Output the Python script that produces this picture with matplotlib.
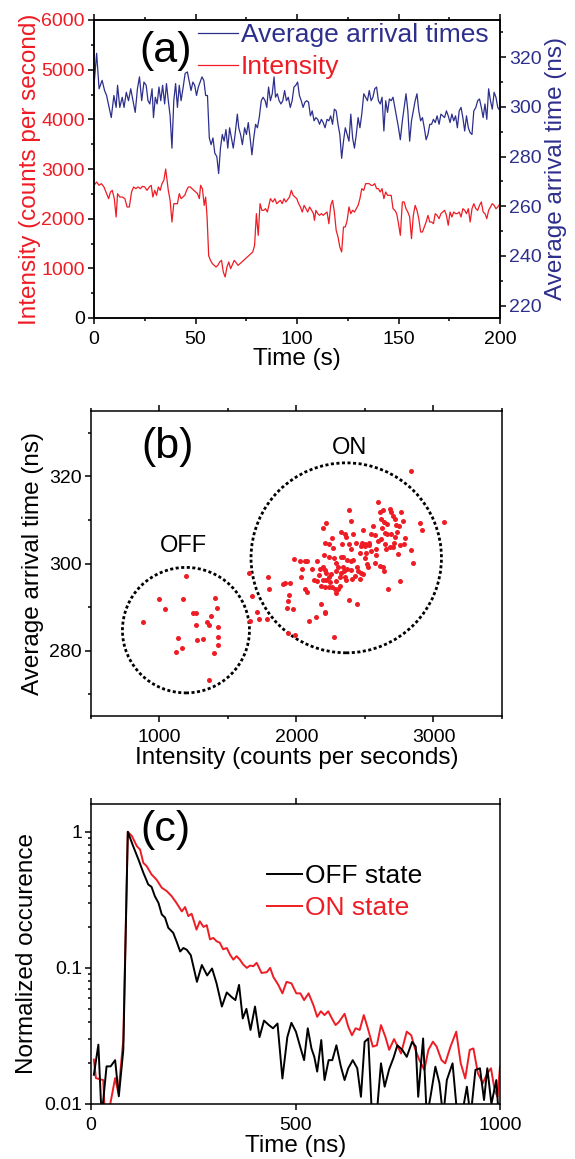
import matplotlib.pyplot as plt
import numpy as np
from matplotlib.patches import Ellipse
from matplotlib.ticker import MultipleLocator, LogLocator, NullFormatter

plt.rcParams['font.family'] = ['Liberation Sans', 'DejaVu Sans']
plt.rcParams['axes.linewidth'] = 1.1

RED = '#EE1C24'
BLUE = '#2D2F8C'

# ---- (a) time traces (s)
arrival_t = [
    0.0, 1.3, 2.5, 4.0, 5.2, 6.2, 7.6, 8.5, 9.8, 10.9,
    11.6, 12.7, 13.9, 14.8, 15.9, 17.0, 18.1, 19.2, 20.3, 21.4,
    22.4, 23.5, 24.6, 25.7, 26.6, 27.5, 28.6, 29.3, 30.2, 31.1,
    32.0, 32.9, 33.8, 34.8, 35.7, 36.6, 37.5, 38.4, 39.3, 40.2,
    41.1, 42.0, 42.9, 43.8, 44.9, 46.0, 47.1, 47.8, 48.7, 49.6,
    50.5, 51.4, 52.3, 53.2, 54.1, 55.0, 55.9, 56.8, 57.7, 58.6,
    59.5, 60.5, 61.4, 62.3, 63.2, 64.1, 65.0, 65.9, 66.8, 67.7,
    68.6, 69.5, 70.6, 71.3, 72.2, 73.1, 74.2, 75.1, 76.0, 76.9,
    77.8, 78.7, 79.6, 80.5, 81.4, 82.4, 83.3, 84.3, 85.1, 86.0,
    86.9, 87.8, 88.7, 89.4, 90.3, 91.2, 92.1, 93.0, 93.9, 94.8,
    95.7, 96.7, 97.6, 98.5, 99.4, 100.3, 101.2, 102.1, 103.0, 103.9,
    104.8, 105.7, 106.6, 107.5, 108.4, 109.3, 110.2, 111.1, 112.0, 112.9,
    113.8, 114.8, 115.7, 116.6, 117.5, 118.4, 119.3, 120.2, 121.1, 122.0,
    122.9, 123.8, 124.7, 125.6, 126.5, 127.4, 128.3, 129.2, 130.1, 131.0,
    131.9, 132.9, 133.8, 134.7, 135.6, 136.5, 137.4, 138.3, 139.2, 140.1,
    141.0, 141.9, 142.8, 143.7, 144.6, 145.5, 146.4, 147.3, 148.2, 149.1,
    150.0, 150.9, 151.9, 152.8, 153.7, 154.6, 155.5, 156.4, 157.3, 158.2,
    159.1, 160.0, 160.9, 161.8, 162.7, 163.6, 164.5, 165.4, 166.3, 167.2,
    168.1, 169.0, 170.0, 170.9, 171.8, 172.7, 173.6, 174.5, 175.4, 176.3,
    177.2, 178.1, 179.0, 179.9, 180.8, 181.7, 182.6, 183.5, 184.4, 185.3,
    186.2, 187.1, 188.1, 189.0, 189.9, 190.8, 191.7, 192.6, 193.5, 194.4,
    195.3, 196.2, 197.1, 198.0, 198.9, 200.0]
arrival = [
    308.7, 321.6, 307.3, 310.7, 306.6, 304.6, 299.1, 295.7, 304.6, 299.8,
    308.7, 299.8, 303.9, 299.8, 305.9, 302.5, 307.3, 302.5, 297.8, 307.3,
    312.1, 302.5, 310.0, 308.7, 302.5, 301.2, 307.3, 295.7, 303.9, 301.2,
    308.0, 302.5, 308.7, 301.2, 309.4, 302.5, 296.4, 283.4, 302.5, 309.4,
    299.8, 308.7, 302.5, 307.3, 313.5, 314.1, 309.4, 306.6, 310.0, 308.7,
    304.6, 308.0, 310.0, 312.1, 310.7, 304.6, 304.6, 287.5, 284.8, 287.5,
    281.4, 280.0, 273.2, 283.4, 288.9, 286.2, 290.9, 283.4, 291.6, 287.5,
    283.4, 288.9, 297.1, 291.6, 288.9, 284.8, 291.6, 288.9, 293.7, 287.5,
    280.7, 287.5, 293.0, 291.6, 295.7, 302.5, 303.9, 302.5, 299.8, 308.0,
    302.5, 305.3, 312.1, 303.9, 305.3, 302.5, 301.2, 302.5, 306.6, 302.5,
    303.9, 299.8, 302.5, 308.0, 308.7, 310.0, 304.6, 302.5, 299.8, 301.9,
    302.5, 301.9, 296.4, 298.4, 294.4, 295.7, 295.0, 293.0, 295.0, 293.7,
    291.6, 295.0, 294.4, 296.4, 293.0, 299.1, 298.4, 293.0, 288.9, 279.3,
    286.2, 291.6, 288.9, 286.2, 297.1, 287.5, 283.4, 288.9, 295.7, 291.6,
    297.1, 305.3, 303.9, 302.5, 306.6, 302.5, 303.9, 307.3, 308.0, 302.5,
    301.2, 303.9, 290.3, 302.5, 297.8, 303.2, 302.5, 303.9, 299.8, 295.7,
    291.6, 286.8, 294.4, 299.8, 305.3, 298.4, 286.2, 294.4, 298.4, 302.5,
    305.3, 298.4, 294.4, 295.7, 291.6, 286.8, 288.9, 293.0, 293.0, 295.0,
    293.7, 296.4, 293.0, 297.1, 296.4, 295.7, 298.4, 296.4, 293.7, 297.1,
    294.4, 296.4, 291.6, 298.4, 299.8, 295.7, 290.3, 296.4, 291.6, 289.6,
    288.9, 298.4, 299.8, 302.5, 303.2, 299.8, 295.7, 301.2, 295.0, 307.3,
    302.5, 299.1, 305.9, 303.9, 299.8, 298.4]

intensity_t = [
    0.0, 1.3, 2.5, 3.6, 4.9, 6.2, 7.2, 8.1, 9.0, 10.0,
    10.9, 11.6, 12.7, 13.9, 15.2, 16.3, 17.4, 18.5, 19.5, 20.6,
    21.7, 22.8, 23.9, 25.0, 26.1, 27.2, 28.2, 29.0, 29.9, 30.8,
    31.7, 32.6, 33.5, 34.4, 35.3, 36.6, 37.5, 38.4, 39.3, 40.2,
    41.1, 42.0, 42.9, 43.8, 44.7, 45.6, 46.5, 47.4, 48.3, 49.2,
    50.1, 51.0, 51.9, 52.5, 53.4, 54.3, 55.0, 55.7, 56.5, 57.4,
    58.3, 59.2, 60.1, 61.0, 61.9, 62.8, 63.7, 64.6, 65.5, 66.4,
    67.3, 69.1, 71.0, 72.8, 74.6, 76.4, 78.2, 79.1, 80.0, 80.9,
    81.8, 82.7, 83.6, 84.5, 85.4, 86.9, 88.1, 89.1, 90.0, 90.9,
    91.8, 92.7, 93.6, 94.5, 96.3, 97.2, 98.1, 99.0, 99.9, 100.8,
    101.7, 102.6, 103.5, 104.4, 105.3, 106.2, 107.2, 108.1, 108.6, 109.3,
    110.2, 111.1, 112.0, 112.9, 113.8, 114.8, 115.7, 116.6, 117.5, 118.4,
    119.3, 120.2, 121.1, 122.0, 122.9, 123.8, 124.7, 125.6, 126.5, 127.4,
    128.3, 129.2, 130.1, 131.0, 131.9, 132.9, 133.8, 134.7, 135.6, 136.5,
    137.4, 138.3, 139.2, 140.1, 141.0, 141.9, 142.8, 143.7, 144.6, 145.5,
    146.4, 147.3, 148.2, 149.1, 150.0, 150.9, 151.9, 152.8, 153.7, 154.6,
    155.5, 156.4, 157.3, 158.2, 159.1, 160.0, 160.9, 161.8, 162.7, 163.6,
    164.5, 165.4, 166.3, 167.2, 168.1, 169.0, 170.0, 170.9, 171.8, 172.7,
    173.6, 174.5, 175.4, 176.3, 177.2, 178.1, 179.0, 179.9, 180.8, 181.7,
    182.6, 183.5, 184.4, 185.3, 186.2, 187.1, 188.1, 189.0, 189.9, 190.8,
    191.7, 192.6, 193.5, 194.4, 195.3, 196.2, 197.1, 198.0, 198.9, 200.0]
intensity = [
    2671, 2738, 2671, 2705, 2638, 2503, 2403, 2537, 2570, 2403,
    2034, 2503, 2436, 2436, 2403, 2235, 2235, 2537, 2638, 2604,
    2638, 2604, 2651, 2638, 2570, 2638, 2671, 2436, 2570, 2470,
    2638, 2570, 2705, 2772, 3000, 2570, 2369, 1933, 2302, 2302,
    2302, 2503, 2403, 2436, 2470, 2570, 2638, 2638, 2604, 2570,
    2537, 2503, 2403, 2671, 2604, 2268, 2436, 2034, 1250, 1160,
    1094, 1060, 1027, 1060, 1128, 1161, 926, 826, 1027, 1128,
    993, 1161, 1060, 1128, 1195, 1262, 1329, 1463, 2101, 1664,
    2302, 2168, 2168, 2201, 2134, 2403, 2336, 2403, 2302, 2336,
    2369, 2302, 2403, 2336, 2436, 2570, 2470, 2436, 2403, 2302,
    2235, 2134, 2268, 2201, 2134, 2235, 2168, 2101, 1966, 2168,
    2101, 2067, 2101, 2067, 2101, 2134, 1899, 2268, 2369, 2134,
    1765, 1631, 1430, 1329, 1832, 1832, 1966, 2235, 2101, 2168,
    2134, 2201, 2268, 2403, 2604, 2570, 2705, 2705, 2705, 2671,
    2671, 2705, 2604, 2604, 2537, 2604, 2403, 2537, 2470, 2470,
    2470, 2201, 2168, 2101, 1899, 1664, 2336, 2336, 2201, 2134,
    2034, 1597, 2067, 2268, 2168, 2000, 1732, 1732, 1832, 1933,
    2067, 1933, 1933, 1899, 2101, 2067, 2000, 2101, 2134, 2168,
    2067, 1866, 2134, 2034, 2134, 2101, 2101, 2134, 2034, 2201,
    2168, 2101, 2201, 1933, 2201, 2302, 2201, 2168, 2268, 2336,
    2134, 2101, 2000, 2168, 2235, 2302, 2268, 2201, 2235, 2302]

# ---- (b) scatter: intensity vs average arrival time
off_x = [883, 1000, 1041, 1168, 1190, 1241, 1263, 1268, 1132, 1163, 1124, 1271,
         1317, 1349, 1359, 1376, 1407, 1420, 1429, 1429, 1424, 1398, 1359]
off_y = [286.6, 291.8, 289.6, 291.9, 297.2, 288.7, 288.7, 285.8, 282.9, 280.7,
         279.6, 282.5, 282.6, 286.5, 286.0, 288.0, 292.0, 289.9, 285.5, 283.1,
         281.2, 279.5, 273.3]

on_x = [1654, 1673, 1661, 1710, 1724, 1790, 1800, 1788, 1937, 1988, 1934, 1971,
        1944, 1941, 1900, 1917, 1954, 1985, 2029, 2059, 2076, 2039, 2034, 2059,
        2073, 2088, 2139, 2151, 2112, 2129, 2149, 2180, 2207, 2205, 2276, 2190,
        2217, 2205, 2239, 2202, 2234, 2259, 2263, 2171, 2193, 2205, 2217, 2161,
        2193, 2217, 2234, 2246, 2180, 2205, 2234, 2259, 2278, 2290, 2302, 2315,
        2273, 2290, 2322, 2341, 2371, 2395, 2327, 2351, 2359, 2380, 2400, 2415,
        2437, 2332, 2380, 2339, 2346, 2371, 2351, 2359, 2395, 2405, 2424, 2444,
        2449, 2461, 2488, 2461, 2473, 2480, 2485, 2498, 2510, 2517, 2522, 2502,
        2529, 2546, 2559, 2571, 2595, 2607, 2619, 2632, 2639, 2649, 2663, 2680,
        2693, 2705, 2717, 2729, 2737, 2746, 2766, 2778, 2790, 2754, 2741, 2705,
        2680, 2656, 2644, 2619, 2595, 2583, 2578, 2607, 2632, 2639, 2668, 2754,
        2839, 2851, 2900, 2917, 3076, 2839, 2444, 2383, 2546, 2693, 2717, 2571,
        2498, 2400, 2412, 2468, 2315, 2290, 2254, 2285, 2327, 2302, 2527, 2624,
        2663, 2712, 2788]
on_y = [297.8, 292.5, 286.8, 288.9, 287.2, 296.8, 294.1, 287.2, 284.1, 283.5,
        289.8, 289.6, 292.7, 291.3, 295.4, 295.6, 295.6, 301.0, 300.5, 300.5,
        300.5, 298.8, 296.8, 294.2, 293.5, 286.9, 287.8, 300.5, 298.8, 296.2,
        296.0, 290.6, 288.9, 288.6, 283.1, 308.1, 309.3, 304.6, 304.5, 302.0,
        301.6, 305.8, 303.5, 298.8, 299.2, 298.6, 297.9, 297.3, 296.2, 296.2,
        296.8, 295.8, 294.8, 294.6, 294.5, 294.6, 294.1, 293.3, 294.1, 294.8,
        301.2, 300.2, 301.5, 301.4, 300.8, 300.6, 307.2, 306.8, 306.0, 312.3,
        309.8, 306.7, 304.7, 304.5, 304.5, 299.1, 298.3, 298.7, 296.8, 296.1,
        298.5, 296.4, 297.2, 299.1, 298.3, 296.4, 297.5, 302.5, 304.1, 304.8,
        307.8, 304.5, 302.5, 299.8, 299.3, 304.1, 304.2, 302.8, 308.5, 306.6,
        314.2, 311.9, 310.2, 312.2, 309.5, 306.9, 306.8, 312.5, 311.9, 311.0,
        310.2, 308.8, 307.2, 308.7, 311.8, 309.8, 305.8, 304.2, 302.2, 303.7,
        303.7, 303.3, 304.5, 305.6, 305.2, 303.3, 301.9, 299.5, 299.1, 298.2,
        294.1, 296.0, 303.2, 300.2, 309.3, 307.8, 309.5, 321.2, 290.6, 291.6,
        306.8, 306.8, 306.0, 300.2, 301.2, 303.3, 300.8, 297.8, 297.0, 296.0,
        297.5, 298.3, 297.9, 299.1, 304.7, 308.1, 309.0, 304.8, 304.5]

# ---- (c) normalized decay histograms
off_t = [7, 18, 26, 38, 48, 59, 68, 79, 90, 103, 116, 128, 140, 148, 156, 165,
         173, 181, 189, 201, 209, 218, 226, 234, 244, 259, 271, 284, 296, 307,
         320, 332, 344, 353, 362, 371, 380, 390, 401, 412, 423, 435, 445, 456,
         468, 480, 490, 501, 512, 521, 530, 539, 546, 553, 563, 571, 581, 590,
         600, 611, 620, 629, 640, 651, 660, 669, 678, 687, 698, 709, 718, 729,
         740, 749, 761, 772, 785, 794, 800, 812, 821, 830, 842, 852, 861, 870,
         884, 893, 906, 919, 928, 940, 951, 961, 969, 979, 991, 997]
off_n = [0.0164, 0.0273, 0.008, 0.0189, 0.0189, 0.021, 0.0114, 0.025, 1.0, 0.785,
         0.626, 0.50, 0.41, 0.394, 0.337, 0.30, 0.247, 0.234, 0.197, 0.181,
         0.157, 0.132, 0.14, 0.136, 0.124, 0.079, 0.105, 0.088, 0.099, 0.077,
         0.052, 0.066, 0.061, 0.058, 0.075, 0.0425, 0.050, 0.035, 0.052, 0.031,
         0.041, 0.038, 0.036, 0.039, 0.0154, 0.031, 0.0395, 0.034, 0.026, 0.021,
         0.036, 0.0256, 0.0222, 0.0173, 0.0295, 0.015, 0.021, 0.021, 0.027, 0.0188,
         0.015, 0.0183, 0.021, 0.0183, 0.0113, 0.0286, 0.0303, 0.008, 0.008, 0.0199,
         0.0134, 0.018, 0.022, 0.027, 0.025, 0.0222, 0.0286, 0.0264, 0.0113, 0.0303,
         0.008, 0.0113, 0.0188, 0.0142, 0.008, 0.015, 0.0199, 0.010, 0.008, 0.0134,
         0.008, 0.0178, 0.0183, 0.0107, 0.0183, 0.010, 0.015, 0.008]

on_t = [7, 12, 22, 30, 34, 46, 59, 67, 79, 90, 100, 112, 120, 128, 136, 148,
        160, 173, 185, 197, 209, 222, 230, 238, 246, 258, 266, 275, 283, 291,
        299, 307, 315, 323, 332, 340, 348, 356, 364, 372, 381, 389, 397, 405,
        417, 430, 438, 446, 458, 468, 478, 490, 502, 512, 521, 532, 544, 553,
        562, 571, 580, 589, 598, 606, 620, 629, 638, 647, 657, 667, 678, 689,
        699, 709, 720, 729, 741, 750, 758, 772, 783, 792, 803, 815, 825, 836,
        845, 857, 866, 879, 893, 904, 915, 926, 935, 946, 958, 969, 978, 987,
        994, 1000]
on_n = [0.0212, 0.0155, 0.0152, 0.015, 0.008, 0.0096, 0.0155, 0.012, 0.0297, 1.0,
        0.93, 0.785, 0.74, 0.59, 0.56, 0.486, 0.446, 0.388, 0.367, 0.337,
        0.30, 0.26, 0.28, 0.24, 0.25, 0.191, 0.22, 0.20, 0.206, 0.162,
        0.166, 0.157, 0.153, 0.137, 0.14, 0.125, 0.115, 0.122, 0.115, 0.106,
        0.10, 0.104, 0.103, 0.109, 0.0918, 0.093, 0.10, 0.0856, 0.075, 0.065,
        0.079, 0.077, 0.065, 0.065, 0.058, 0.065, 0.053, 0.0437, 0.048, 0.045,
        0.048, 0.0425, 0.038, 0.040, 0.046, 0.037, 0.032, 0.036, 0.035, 0.045,
        0.035, 0.0264, 0.027, 0.038, 0.031, 0.025, 0.030, 0.0264, 0.0235, 0.034,
        0.032, 0.0256, 0.021, 0.0178, 0.025, 0.0287, 0.0264, 0.021, 0.0199, 0.0264,
        0.034, 0.0199, 0.0154, 0.025, 0.0256, 0.0168, 0.0142, 0.0168, 0.0183, 0.0126,
        0.0113, 0.0188]

TICK_FS = 14
LABEL_FS = 17.5
LEGEND_FS = 19
LETTER_FS = 31


def style_ticks(ax):
    ax.tick_params(which='both', direction='out', width=1.1, labelsize=TICK_FS, pad=2)
    ax.tick_params(axis='x', which='both', pad=4.5)
    ax.tick_params(which='major', length=4.5)
    ax.tick_params(which='minor', length=2.5)


fig = plt.figure(figsize=(5.75, 11.59), dpi=100)
W, H = 575.0, 1159.0


def add_axes(l, r, t, b):
    return fig.add_axes([l / W, 1 - b / H, (r - l) / W, (b - t) / H])


# ================= (a)
ax1 = add_axes(94, 500, 20, 318)
ax2 = ax1.twinx()
l_int, = ax1.plot(intensity_t, intensity, color=RED, lw=0.9, label='Intensity')
l_arr, = ax2.plot(arrival_t, arrival, color=BLUE, lw=0.9, label='Average arrival times')
ax1.set_xlim(0, 200)
ax1.set_ylim(0, 6000)
ax2.set_ylim(215, 335)
ax1.set_xticks([0, 50, 100, 150, 200])
ax1.xaxis.set_minor_locator(MultipleLocator(25))
ax1.set_yticks(range(0, 6001, 1000))
ax1.yaxis.set_minor_locator(MultipleLocator(500))
ax2.set_yticks(range(220, 321, 20))
ax2.yaxis.set_minor_locator(MultipleLocator(10))
style_ticks(ax1)
style_ticks(ax2)
ax1.tick_params(axis='x', which='both', top=True)
ax1.tick_params(axis='y', labelcolor=RED)
ax1.get_yticklabels()[0].set_color('black')
ax2.tick_params(axis='y', labelcolor=BLUE)
ax1.set_xlabel('Time (s)', fontsize=LABEL_FS, labelpad=0.5)
ax1.set_ylabel('Intensity (counts per second)', fontsize=LABEL_FS, color=RED, labelpad=0)
ax2.set_ylabel('Average arrival time (ns)', fontsize=LABEL_FS, color=BLUE, labelpad=2)
ax2.legend(handles=[l_arr, l_int], loc='upper left', bbox_to_anchor=(0.255, 0.99),
           frameon=False, fontsize=LEGEND_FS, handlelength=1.55, handletextpad=0.1,
           labelspacing=0.3, borderpad=0, borderaxespad=0, labelcolor='linecolor')
ax1.text(0.177, 0.895, '(a)', transform=ax1.transAxes, fontsize=LETTER_FS,
         ha='center', va='center')

# ================= (b)
axb = add_axes(91, 502, 411, 716)
axb.scatter(off_x, off_y, s=13, color=RED, lw=0, zorder=3)
axb.scatter(on_x, on_y, s=13, color=RED, lw=0, zorder=3)
axb.add_patch(Ellipse((1193, 284.7), 927, 28.8, fill=False, ec='black', lw=2.0,
                      ls=(0, (1.1, 0.9))))
axb.add_patch(Ellipse((2363, 301.3), 1390, 43.6, fill=False, ec='black', lw=2.0,
                      ls=(0, (1.1, 0.9))))
axb.text(1176, 304.1, 'OFF', fontsize=17, ha='center', va='center')
axb.text(2388, 326.4, 'ON', fontsize=17, ha='center', va='center')
axb.text(0.187, 0.882, '(b)', transform=axb.transAxes, fontsize=LETTER_FS,
         ha='center', va='center')
axb.set_xlim(500, 3500)
axb.set_ylim(265, 335)
axb.set_xticks([1000, 2000, 3000])
axb.xaxis.set_minor_locator(MultipleLocator(500))
axb.set_yticks([280, 300, 320])
axb.yaxis.set_minor_locator(MultipleLocator(10))
style_ticks(axb)
axb.tick_params(axis='x', which='both', top=True)
axb.set_xlabel('Intensity (counts per seconds)', fontsize=LABEL_FS, labelpad=1)
axb.set_ylabel('Average arrival time (ns)', fontsize=LABEL_FS, labelpad=4)

# ================= (c)
axc = add_axes(91, 500, 804, 1104)
axc.plot(on_t, on_n, color=RED, lw=1.4, label='ON state')
axc.plot(off_t, off_n, color='black', lw=1.4, label='OFF state')
axc.set_yscale('log')
axc.set_xlim(0, 1000)
axc.set_ylim(0.01, 1.6)
axc.set_xticks([0, 500, 1000])
axc.set_yticks([0.01, 0.1, 1])
axc.set_yticklabels(['0.01', '0.1', '1'])
axc.yaxis.set_minor_locator(LogLocator(base=10, subs=np.arange(2, 10)))
axc.yaxis.set_minor_formatter(NullFormatter())
style_ticks(axc)
axc.tick_params(axis='x', which='both', top=True)
h, lab = axc.get_legend_handles_labels()
axc.legend(h[::-1], lab[::-1], loc='upper left', bbox_to_anchor=(0.43, 0.80),
           frameon=False, fontsize=LEGEND_FS, handlelength=1.35, handletextpad=0.1,
           labelspacing=0.3, borderpad=0, borderaxespad=0, labelcolor='linecolor')
axc.text(0.183, 0.915, '(c)', transform=axc.transAxes, fontsize=LETTER_FS,
         ha='center', va='center')
axc.set_xlabel('Time (ns)', fontsize=LABEL_FS, labelpad=1)
axc.set_ylabel('Normalized occurence', fontsize=LABEL_FS, labelpad=4)

fig.savefig('out.png', dpi=100)
